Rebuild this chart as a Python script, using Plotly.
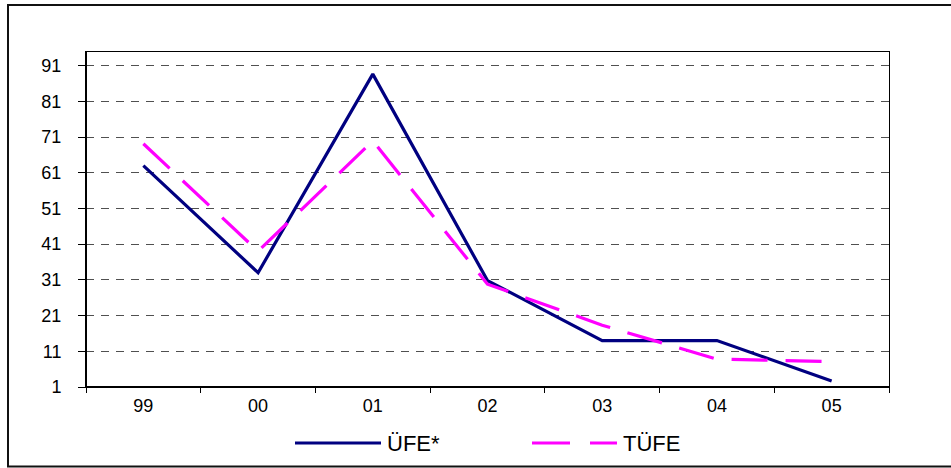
import plotly.graph_objects as go

# ---- data ----
years = ["99", "00", "01", "02", "03", "04", "05"]
ufe = [63.0, 33.0, 88.6, 30.8, 14.0, 14.0, 2.7]
tufe = [69.1, 39.0, 69.9, 29.8, 18.3, 8.8, 8.1]
y_ticks = [1, 11, 21, 31, 41, 51, 61, 71, 81, 91]
series_names = ["ÜFE*", "TÜFE"]

W, H = 951, 468
L, R, T, B = 86, 62, 52, 81
PW, PH = W - L - R, H - T - B

def px_x(px):
    return (px - L) / PW

def px_y(py):
    return (H - B - py) / PH

NAVY = "#000080"
MAGENTA = "#FF00FF"
FONT = "Liberation Sans, Arial, sans-serif"

fig = go.Figure()
fig.add_trace(go.Scatter(x=years, y=ufe, mode="lines", name=series_names[0],
                         line=dict(color=NAVY, width=3.2), showlegend=False))
fig.add_trace(go.Scatter(x=years, y=tufe, mode="lines", name=series_names[1],
                         line=dict(color=MAGENTA, width=3.2, dash="36px,18px"),
                         showlegend=False))

shapes = []
# outer chart border
shapes.append(dict(type="rect", xref="paper", yref="paper",
                   x0=px_x(8), x1=px_x(960), y0=px_y(466.5), y1=px_y(5),
                   line=dict(color="#111111", width=2), fillcolor="rgba(0,0,0,0)",
                   layer="below"))
# heavier left and bottom axis lines
shapes.append(dict(type="line", xref="paper", yref="paper", x0=0, x1=0, y0=0, y1=1,
                   line=dict(color="#000000", width=2)))
shapes.append(dict(type="line", xref="paper", yref="paper", x0=0, x1=1, y0=0, y1=0,
                   line=dict(color="#000000", width=2)))
# legend samples
leg_y = px_y(443)
shapes.append(dict(type="line", xref="paper", yref="paper",
                   x0=px_x(295), x1=px_x(381), y0=leg_y, y1=leg_y,
                   line=dict(color=NAVY, width=3.2)))
shapes.append(dict(type="line", xref="paper", yref="paper",
                   x0=px_x(532), x1=px_x(617), y0=leg_y, y1=leg_y,
                   line=dict(color=MAGENTA, width=3.2, dash="38px,20px")))

annotations = [
    dict(xref="paper", yref="paper", x=px_x(385), y=leg_y, text=series_names[0],
         showarrow=False, xanchor="left", yanchor="middle",
         font=dict(family=FONT, size=22, color="#000000")),
    dict(xref="paper", yref="paper", x=px_x(621), y=leg_y, text=series_names[1],
         showarrow=False, xanchor="left", yanchor="middle",
         font=dict(family=FONT, size=22, color="#000000")),
]

fig.update_layout(
    width=W, height=H,
    margin=dict(l=L, r=R, t=T, b=B, pad=0),
    paper_bgcolor="white", plot_bgcolor="white",
    showlegend=False,
    shapes=shapes, annotations=annotations,
    font=dict(family=FONT, size=18, color="#000000"),
)
fig.update_xaxes(type="category", range=[-0.5, 6.5],
                 showline=True, linecolor="#000000", linewidth=1, mirror=True,
                 ticks="outside", tickson="boundaries", ticklen=5, tickcolor="#000000",
                 showgrid=False, zeroline=False, ticklabelstandoff=2,
                 tickfont=dict(family=FONT, size=18, color="#000000"))
fig.update_yaxes(range=[1, 94.8], tickvals=y_ticks, ticktext=[str(v) for v in y_ticks],
                 showline=True, linecolor="#000000", linewidth=1, mirror=True,
                 ticks="outside", ticklen=7, tickcolor="#000000",
                 showgrid=True, gridcolor="#505050", gridwidth=1, griddash="8px,7px",
                 zeroline=False, ticklabelstandoff=13,
                 tickfont=dict(family=FONT, size=18, color="#000000"))

fig.write_html("out.html")
